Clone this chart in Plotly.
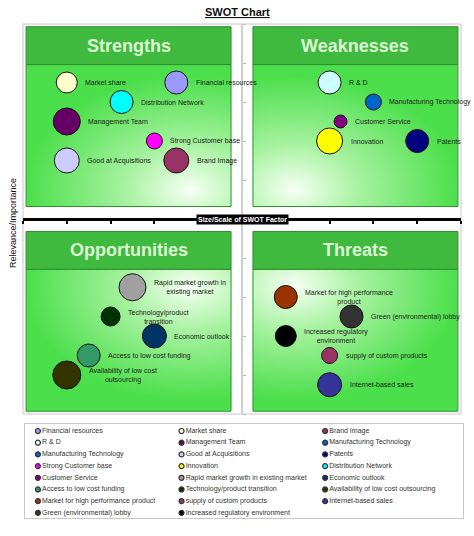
import base64
import plotly.graph_objects as go

# ---------------- data ----------------
labels = [
    "Market share", "Financial resources", "Distribution Network", "Management Team",
    "Strong Customer base", "Good at Acquisitions", "Brand Image",
    "R & D", "Manufacturing Technology", "Customer Service", "Innovation", "Patents",
    "Rapid market growth in<br>existing market", "Technology/product<br>transition",
    "Economic outlook", "Access to low cost funding", "Availability of low cost<br>outsourcing",
    "Market for high performance<br>product", "Green (environmental) lobby",
    "Increased regulatory<br>environment", "supply of custom products", "Internet-based sales",
]
size_scale = [-4.0, -1.5, -2.75, -4.0, -2.0, -4.0, -1.5,
              2.0, 3.0, 2.25, 2.0, 4.0,
              -2.5, -3.0, -2.0, -3.5, -4.0,
              1.0, 2.5, 1.0, 2.0, 2.0]
relevance = [3.5, 3.5, 3.0, 2.5, 2.0, 1.5, 1.5,
             3.5, 3.0, 2.5, 2.0, 2.0,
             -1.75, -2.5, -3.0, -3.5, -4.0,
             -2.0, -2.5, -3.0, -3.5, -4.25]
bubble_px = [21, 23, 23, 27, 16, 25, 25,
             23, 16, 13, 26, 23,
             27, 19, 24, 23, 28,
             23, 23, 21, 16, 24]
colors = ["#FFFFCC", "#9999FF", "#00FFFF", "#660066", "#FF00FF", "#CCCCFF", "#993366",
          "#CCFFFF", "#0066CC", "#800080", "#FFFF00", "#000080",
          "#A0A0A0", "#003300", "#003366", "#339966", "#333300",
          "#993300", "#333333", "#000000", "#993366", "#333399"]

quadrant_titles = ["Strengths", "Weaknesses", "Opportunities", "Threats"]

legend_order = [
    "Financial resources", "Market share", "Brand Image",
    "R & D", "Management Team", "Manufacturing Technology",
    "Manufacturing Technology", "Good at Acquisitions", "Patents",
    "Strong Customer base", "Innovation", "Distribution Network",
    "Customer Service", "Rapid market growth in existing market", "Economic outlook",
    "Access to low cost funding", "Technology/product transition", "Availability of low cost outsourcing",
    "Market for high performance product", "supply of custom products", "Internet-based sales",
    "Green (environmental) lobby", "Increased regulatory environment",
]

# ---------------- layout constants ----------------
W, H = 474, 536
FONT = "Liberation Sans, Arial, sans-serif"
px_dom = [23 / W, 461 / W]
py_dom = [1 - 414 / H, 1 - 24 / H]
lx_dom = [25 / W, 463 / W]
ly_dom = [1 - 518 / H, 1 - 424 / H]

GAPX, GAPY = 0.25, 0.32
EDGE = 4.93
HEAD = 0.97

names = [l.replace("<br>", " ") for l in labels]
color_of = dict(zip(names, colors))


def gradient_uri(cx, cy):
    svg = (
        '<svg xmlns="http://www.w3.org/2000/svg" width="200" height="140" viewBox="0 0 200 140" '
        'preserveAspectRatio="none"><defs><radialGradient id="g" cx="%.2f" cy="%.2f" r="0.8" '
        'gradientUnits="objectBoundingBox"><stop offset="0" stop-color="#F6FFF4"/>'
        '<stop offset="0.4" stop-color="#A6F29F"/><stop offset="1" stop-color="#4CDF4C"/>'
        '</radialGradient></defs><rect width="200" height="140" fill="url(#g)"/></svg>' % (cx, cy)
    )
    return "data:image/svg+xml;base64," + base64.b64encode(svg.encode()).decode()


fig = go.Figure()

# quadrant panels: (x side, y side)
panels = [(-1, 1), (1, 1), (-1, -1), (1, -1)]
annotations = []
images = []
for title, (sx, sy) in zip(quadrant_titles, panels):
    xa, xb = sorted([sx * GAPX, sx * EDGE])
    top = max(sy * GAPY, sy * EDGE)
    bot = min(sy * GAPY, sy * EDGE)
    head_bot = top - HEAD
    # gradient is lightest toward the chart centre
    cx = 0.8 if sx < 0 else 0.2
    cy = 0.88 if sy > 0 else 0.12
    images.append(dict(source=gradient_uri(cx, cy), xref="x", yref="y", x=xa, y=head_bot,
                       sizex=xb - xa, sizey=head_bot - bot, sizing="stretch",
                       xanchor="left", yanchor="top", layer="below"))
    fig.add_trace(go.Scatter(
        x=[xa, xb, xb, xa, xa], y=[bot, bot, head_bot, head_bot, bot], mode="lines",
        line=dict(color="#2F8F2F", width=1), hoverinfo="skip", showlegend=False))
    fig.add_trace(go.Scatter(
        x=[xa, xb, xb, xa, xa], y=[head_bot, head_bot, top, top, head_bot], mode="lines",
        fill="toself", line=dict(color="#2F8F2F", width=1), fillcolor="#3FBA3F",
        hoverinfo="skip", showlegend=False))
    annotations.append(dict(
        x=(xa + xb) / 2, y=(head_bot + top) / 2, xref="x", yref="y", text="<b>%s</b>" % title,
        xanchor="center", yanchor="middle",
        showarrow=False, font=dict(family=FONT, size=18, color="#DDF7D5")))

# bubbles
for name, lab, xv, yv, s, c in zip(names, labels, size_scale, relevance, bubble_px, colors):
    fig.add_trace(go.Scatter(
        x=[xv], y=[yv], mode="markers", name=name,
        marker=dict(size=s, color=c, line=dict(color="#111111", width=1), opacity=1),
        showlegend=False))
    annotations.append(dict(
        x=xv, y=yv, xref="x", yref="y", text=lab, showarrow=False,
        xanchor="left", yanchor="middle", align="center", xshift=s / 2 + 6,
        font=dict(family=FONT, size=7, color="#1A1A1A")))

# legend grid (drawn on its own axes)
cols = [i % 3 for i in range(len(legend_order))]
rows = [-(i // 3) for i in range(len(legend_order))]
fig.add_trace(go.Scatter(
    x=cols, y=rows, xaxis="x2", yaxis="y2", mode="markers+text",
    text=legend_order, textposition="middle right",
    textfont=dict(family=FONT, size=7, color="#333333"),
    marker=dict(size=5, color=[color_of[n] for n in legend_order],
                line=dict(color="#333333", width=1.2)),
    hoverinfo="skip", showlegend=False))

# axis title + factor label + chart title
annotations.append(dict(
    x=0, y=0, xref="x", yref="y", text="<b>Size/Scale of SWOT Factor</b>", showarrow=False,
    xanchor="center", yanchor="middle",
    bgcolor="#000000", borderpad=1, font=dict(family=FONT, size=7, color="#FFFFFF")))
annotations.append(dict(
    x=13 / W, y=1 - 223 / H, xref="paper", yref="paper", text="Relevance/Importance",
    xanchor="center", yanchor="middle",
    textangle=-90, showarrow=False, font=dict(family=FONT, size=9, color="#111111")))
annotations.append(dict(
    x=237 / W, y=1 - 12 / H, xref="paper", yref="paper", text="<b>SWOT Chart</b>",
    xanchor="center", yanchor="middle",
    showarrow=False, font=dict(family=FONT, size=11, color="#111111", lineposition="under")))

fig.update_layout(
    width=W, height=H, margin=dict(l=0, r=0, t=0, b=0),
    paper_bgcolor="white", plot_bgcolor="rgba(0,0,0,0)", showlegend=False,
    xaxis=dict(domain=px_dom, range=[-5, 5], anchor="free", position=sum(py_dom) / 2,
               showline=True, linecolor="#000000", linewidth=3,
               ticks="outside", ticklen=3, tickwidth=1.5, tickcolor="#000000",
               tick0=-5, dtick=1, showticklabels=False, showgrid=False, zeroline=False),
    yaxis=dict(domain=py_dom, range=[-5, 5], anchor="free", position=sum(px_dom) / 2,
               side="right",
               showline=True, linecolor="#CFCFCF", linewidth=2,
               ticks="outside", ticklen=3, tickwidth=1, tickcolor="#BBBBBB",
               tick0=-5, dtick=1, showticklabels=False, showgrid=False, zeroline=False),
    xaxis2=dict(domain=lx_dom, range=[-0.09, 2.96], anchor="y2", showline=True, mirror=True,
                linecolor="#C8C8C8", linewidth=1, showgrid=False, zeroline=False,
                showticklabels=False, ticks=""),
    yaxis2=dict(domain=ly_dom, range=[-7.44, 0.6], anchor="x2", showline=True, mirror=True,
                linecolor="#C8C8C8", linewidth=1, showgrid=False, zeroline=False,
                showticklabels=False, ticks=""),
    shapes=[dict(type="rect", xref="x domain", yref="y domain", x0=0, x1=1, y0=0, y1=1,
                 line=dict(color="#C8C8C8", width=1), layer="below")],
    images=images,
    annotations=annotations,
)

fig.write_html("out.html", config={"displayModeBar": False},
               post_script="document.body.style.margin='0px';document.body.style.padding='0px';")
